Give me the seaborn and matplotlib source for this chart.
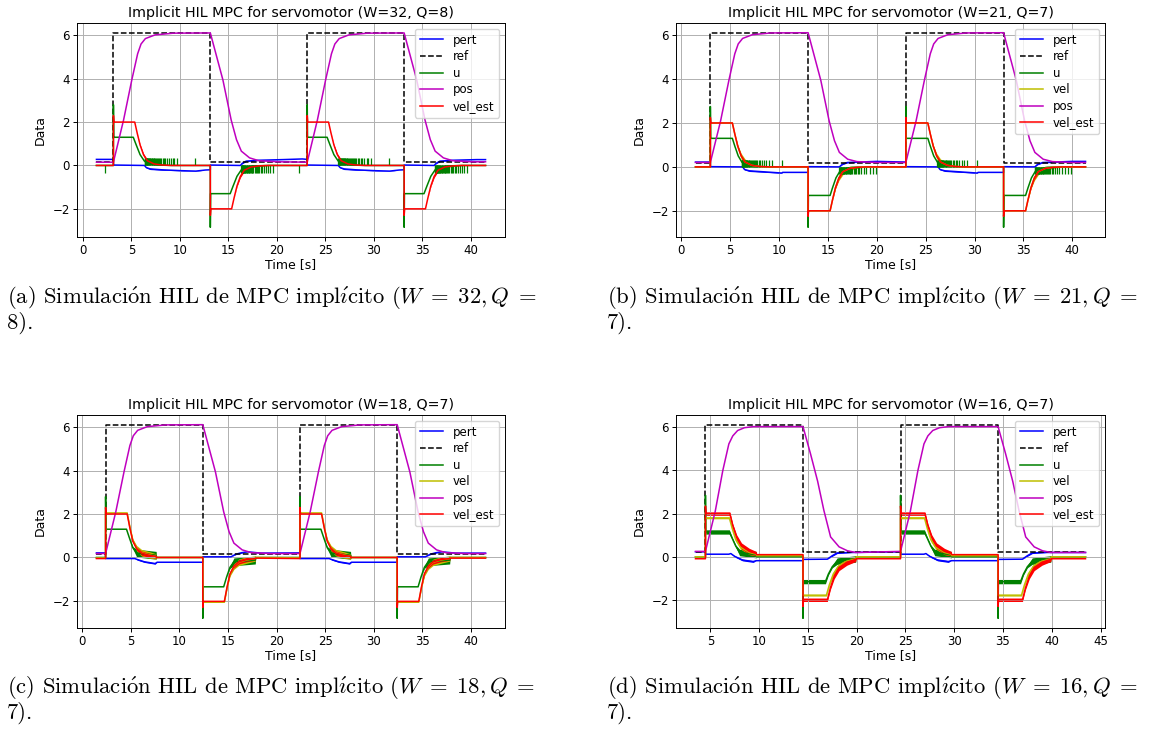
import matplotlib
matplotlib.use("Agg")
import matplotlib.pyplot as plt
import numpy as np
import seaborn as sns

# One 20 s period per panel, times relative to the rising step of the reference.
# First point = value just before the step; fall of the reference at +10 s.
PERIOD = 20.0

# ---------------- (a) W=32, Q=8 ----------------
A_T0, A_START, A_END = 3.15, 1.4, 41.55
A_REF_T = [0, 0, 10, 10, 20]
A_REF_V = [0.17, 6.12, 6.12, 0.17, 0.17]
A_POS_T = [0, 1.05, 1.9, 2.5, 2.85, 3.3, 4.3, 6.2, 10, 11.3, 12.15, 12.7, 13.2, 14.05, 15.0, 17.0, 20]
A_POS_V = [0.15, 2.1, 3.95, 5.15, 5.6, 5.85, 6.02, 6.1, 6.11, 3.94, 2.1, 1.19, 0.66, 0.35, 0.22, 0.17, 0.15]
A_PERT_T = [0, 0, 3.2, 3.4, 3.8, 5.0, 7.0, 8.5, 9.5, 10, 10, 13.1, 13.3, 13.7, 15.0, 17.5, 19.5, 20]
A_PERT_V = [0.28, 0.02, 0.0, -0.1, -0.16, -0.2, -0.24, -0.26, -0.21, -0.2, 0.02, 0.0, 0.1, 0.2, 0.24, 0.27, 0.3, 0.28]
A_PERT_W = [0, 0, 0, 0.02, 0.03, 0.02, 0.01, 0.01, 0, 0, 0, 0, 0.02, 0.02, 0.01, 0, 0, 0]
A_U_T = [0, 0, 0.03, 2.05, 2.35, 2.75, 3.2, 3.6, 4.5, 6, 10, 10, 10.03, 12.05, 12.35, 12.75, 13.2, 13.6, 14.5, 16, 20]
A_U_V = [0, 2.8, 1.3, 1.3, 0.95, 0.5, 0.2, 0.08, 0.02, 0, 0, -2.85, -1.3, -1.3, -0.95, -0.5, -0.2, -0.08, -0.02, 0, 0]
A_VE_T = [0, 0, 0.05, 2.2, 2.45, 2.75, 3.1, 3.5, 4.2, 5.0, 6.0, 10, 10, 10.05, 12.2, 12.45, 12.75, 13.1, 13.5, 14.2, 15, 16, 20]
A_VE_V = [0, 2.3, 2.0, 2.0, 1.5, 0.95, 0.5, 0.22, 0.07, 0.02, 0, 0, -2.3, -2.0, -2.0, -1.5, -0.95, -0.5, -0.22, -0.07, -0.02, 0, 0]
A_VE_W = [0, 0, 0, 0, 0, 0.03, 0.06, 0.06, 0.04, 0.02, 0, 0, 0, 0, 0, 0, 0.03, 0.06, 0.06, 0.04, 0.02, 0, 0]
A_SPK_UP = [3.22, 3.26, 3.3, 3.34, 3.38, 3.42, 3.46, 3.5, 3.55, 3.6, 3.65, 3.7, 3.76, 3.82, 3.88, 3.94,
            4.01, 4.08, 4.15, 4.23, 4.31, 4.4, 4.49, 4.59, 4.7, 4.82, 4.95, 5.08, 5.22, 5.37, 5.53,
            5.7, 5.9, 6.12, 6.3, 6.55, 8.45]
A_SPK_DN = [13.18, 13.22, 13.26, 13.3, 13.34, 13.38, 13.42, 13.47, 13.52, 13.57, 13.62, 13.68, 13.74,
            13.8, 13.87, 13.94, 14.01, 14.09, 14.17, 14.26, 14.35, 14.45, 14.56, 14.68, 14.8, 14.93,
            15.07, 15.22, 15.38, 15.55, 15.75, 15.95, 16.2, 16.5, 19.12]
A_SPK_H = 0.33

# ---------------- (b) W=21, Q=7 ----------------
B_T0, B_START, B_END = 2.97, 1.45, 41.35
B_REF_T = [0, 0, 10, 10, 20]
B_REF_V = [0.18, 6.11, 6.11, 0.18, 0.18]
B_POS_T = [0, 1.05, 1.9, 2.5, 2.85, 3.3, 4.3, 6.2, 10, 11.3, 12.15, 12.7, 13.2, 14.05, 15.0, 17.0, 20]
B_POS_V = [0.2, 2.1, 3.95, 5.15, 5.6, 5.85, 6.02, 6.1, 6.11, 3.94, 2.1, 1.19, 0.66, 0.35, 0.24, 0.2, 0.2]
B_PERT_T = [0, 0, 3.3, 3.5, 4.0, 6.0, 7.3, 7.4, 10, 10, 13.2, 13.5, 14.0, 17.0, 20]
B_PERT_V = [0.22, 0.01, 0.0, -0.12, -0.18, -0.24, -0.28, -0.25, -0.25, 0.01, 0.0, 0.12, 0.2, 0.25, 0.22]
B_PERT_W = [0, 0, 0, 0.02, 0.03, 0.02, 0.01, 0, 0, 0, 0, 0.02, 0.02, 0.01, 0]
B_U_T = [0, 0, 0.03, 2.25, 2.5, 2.85, 3.25, 3.65, 4.5, 6, 10, 10, 10.03, 12.25, 12.5, 12.85, 13.25, 13.65, 14.5, 16, 20]
B_U_V = [0, 2.75, 1.3, 1.3, 0.95, 0.5, 0.2, 0.08, 0.02, 0, 0, -2.75, -1.3, -1.3, -0.95, -0.5, -0.2, -0.08, -0.02, 0, 0]
B_VE_T = [0, 0, 0.05, 2.25, 2.5, 2.8, 3.15, 3.55, 4.25, 5.0, 6.0, 10, 10, 10.05, 12.25, 12.5, 12.8, 13.15, 13.55, 14.25, 15, 16, 20]
B_VE_V = [0, 2.25, 2.0, 2.0, 1.5, 0.95, 0.5, 0.22, 0.07, 0.02, 0, 0, -2.25, -2.0, -2.0, -1.5, -0.95, -0.5, -0.22, -0.07, -0.02, 0, 0]
B_VE_W = [0, 0, 0, 0, 0, 0.03, 0.06, 0.06, 0.04, 0.02, 0, 0, 0, 0, 0, 0, 0.03, 0.06, 0.06, 0.04, 0.02, 0, 0]
B_VEL_V = [0, 2.0, 2.0, 2.0, 1.5, 0.95, 0.5, 0.22, 0.07, 0.02, 0, 0, -2.0, -2.0, -2.0, -1.5, -0.95, -0.5, -0.22, -0.07, -0.02, 0, 0]
B_VEL_W = [0, 0, 0, 0, 0, 0.05, 0.12, 0.14, 0.1, 0.05, 0, 0, 0, 0, 0, 0, 0.05, 0.12, 0.14, 0.1, 0.05, 0, 0]
B_SPK_UP = [3.2, 3.24, 3.28, 3.32, 3.36, 3.4, 3.45, 3.5, 3.55, 3.6, 3.66, 3.72, 3.78, 3.85, 3.92, 3.99,
            4.07, 4.15, 4.24, 4.33, 4.43, 4.54, 4.66, 4.79, 4.93, 5.08, 5.25, 5.45, 5.7, 6.0, 6.3, 7.3]
B_SPK_DN = [13.2, 13.24, 13.28, 13.32, 13.36, 13.4, 13.45, 13.5, 13.55, 13.6, 13.66, 13.72, 13.78,
            13.85, 13.92, 13.99, 14.07, 14.15, 14.24, 14.33, 14.43, 14.54, 14.66, 14.79, 14.93, 15.08,
            15.25, 15.45, 15.7, 15.95, 16.3, 16.6, 16.9]
B_SPK_H = 0.33

# ---------------- (c) W=18, Q=7 ----------------
C_T0, C_START, C_END = 2.41, 1.47, 41.5
C_REF_T = [0, 0, 10, 10, 20]
C_REF_V = [0.15, 6.11, 6.11, 0.15, 0.15]
C_POS_T = [0, 1.05, 1.9, 2.5, 2.85, 3.3, 4.3, 6.2, 10, 11.3, 12.15, 12.7, 13.2, 14.05, 15.0, 17.0, 20]
C_POS_V = [0.18, 2.1, 3.95, 5.15, 5.6, 5.85, 6.02, 6.1, 6.11, 3.94, 2.1, 1.19, 0.66, 0.35, 0.22, 0.18, 0.18]
C_PERT_T = [0, 0, 3.0, 3.3, 4.0, 5.1, 5.3, 10, 10, 12.9, 13.4, 14.0, 14.6, 16.0, 20]
C_PERT_V = [0.21, -0.05, -0.05, -0.1, -0.2, -0.28, -0.22, -0.22, 0.03, 0.03, 0.15, 0.22, 0.26, 0.2, 0.21]
C_PERT_W = [0, 0, 0, 0.03, 0.03, 0.03, 0, 0, 0, 0, 0.02, 0.02, 0, 0, 0]
C_U_T = [0, 0, 0.03, 2.15, 2.45, 2.8, 3.2, 5.2, 5.25, 10, 10, 10.03, 12.15, 12.45, 12.8, 13.2, 15.4, 15.45, 20]
C_U_V = [0, 2.8, 1.3, 1.3, 0.9, 0.45, 0.2, 0.1, 0, 0, -2.8, -1.35, -1.35, -0.9, -0.45, -0.2, -0.12, 0, 0]
C_U_W = [0, 0, 0, 0, 0, 0.05, 0.18, 0.18, 0, 0, 0, 0, 0, 0, 0.05, 0.18, 0.18, 0, 0]
C_VE_T = [0, 0, 0.05, 2.22, 2.5, 2.8, 3.2, 3.7, 4.5, 5.2, 5.25, 10, 10, 10.05, 12.22, 12.5, 12.8, 13.2, 13.7, 14.5, 15.4, 15.45, 20]
C_VE_V = [-0.05, 2.3, 2.0, 2.0, 1.35, 0.75, 0.4, 0.2, 0.1, 0.05, 0, 0, -2.3, -2.02, -2.02, -1.35, -0.75, -0.4, -0.2, -0.1, -0.05, -0.03, -0.05]
C_VE_W = [0, 0, 0, 0, 0.02, 0.04, 0.08, 0.1, 0.1, 0.08, 0, 0, 0, 0, 0, 0.02, 0.04, 0.08, 0.1, 0.1, 0.08, 0, 0]
C_VEL_V = [-0.02, 2.1, 2.05, 2.05, 1.4, 0.8, 0.42, 0.22, 0.12, 0.05, 0, 0, -2.1, -2.06, -2.06, -1.4, -0.8, -0.42, -0.22, -0.12, -0.05, 0, -0.02]
C_VEL_W = [0, 0, 0, 0, 0.03, 0.06, 0.13, 0.15, 0.15, 0.12, 0, 0, 0, 0, 0, 0.03, 0.06, 0.13, 0.15, 0.15, 0.12, 0, 0]

# ---------------- (d) W=16, Q=7 ----------------
D_T0, D_START, D_END = 4.5, 3.48, 43.46
D_REF_T = [0, 0, 10, 10, 20]
D_REF_V = [0.2, 6.12, 6.12, 0.2, 0.2]
D_POS_T = [0, 1.0, 1.78, 2.4, 2.8, 3.3, 4.0, 4.9, 10, 10.77, 11.5, 12.14, 12.83, 13.7, 14.55, 15.4, 20]
D_POS_V = [0.25, 2.1, 4.0, 5.23, 5.6, 5.85, 5.98, 6.03, 6.03, 4.77, 3.5, 2.15, 0.92, 0.46, 0.28, 0.2, 0.25]
D_PERT_T = [0, 0, 2.4, 2.6, 3.0, 3.8, 4.9, 5.2, 10, 10, 12.5, 13.0, 13.5, 15.0, 20]
D_PERT_V = [0.23, 0.12, 0.12, 0.15, 0.02, -0.15, -0.22, -0.18, -0.18, -0.12, -0.11, 0.05, 0.18, 0.2, 0.23]
D_PERT_W = [0, 0, 0, 0, 0.03, 0.04, 0.04, 0, 0, 0, 0, 0.03, 0.03, 0, 0]
D_U_T = [0, 0, 0.03, 2.45, 2.75, 3.1, 3.5, 5.2, 5.25, 10, 10, 10.03, 12.3, 12.6, 13.0, 13.5, 15.4, 15.45, 20]
D_U_V = [0, 2.85, 1.15, 1.15, 0.85, 0.5, 0.2, 0.1, 0, 0, -2.85, -1.15, -1.15, -0.8, -0.46, -0.2, -0.1, 0, 0]
D_U_W = [0, 0, 0.1, 0.1, 0.05, 0.05, 0.15, 0.15, 0, 0, 0, 0.1, 0.1, 0.05, 0.05, 0.15, 0.15, 0, 0]
D_VEL_T = [0, 0, 0.05, 2.45, 2.75, 3.1, 3.6, 4.5, 5.2, 5.25, 10, 10, 10.05, 12.4, 12.7, 13.1, 13.6, 14.5, 15.4, 15.45, 20]
D_VEL_V = [0.0, 1.8, 1.8, 1.8, 1.3, 0.8, 0.45, 0.2, 0.12, 0.05, 0.05, -1.78, -1.78, -1.78, -1.3, -0.8, -0.45, -0.2, -0.1, 0.0, 0.0]
D_VEL_W = [0, 0, 0.04, 0.04, 0.04, 0.08, 0.1, 0.1, 0.08, 0, 0, 0, 0.04, 0.04, 0.04, 0.08, 0.1, 0.1, 0.08, 0, 0]
D_VE_T = [0, 0, 0.05, 2.5, 2.8, 3.2, 3.7, 4.5, 5.2, 5.25, 10, 10, 10.05, 12.5, 12.8, 13.2, 13.7, 14.5, 15.4, 15.45, 20]
D_VE_V = [-0.09, 2.35, 2.0, 2.0, 1.45, 0.9, 0.5, 0.25, 0.15, 0.1, 0.1, -2.3, -1.99, -1.99, -1.45, -0.9, -0.5, -0.25, -0.12, -0.09, -0.09]
D_VE_W = [0, 0, 0.08, 0.08, 0.08, 0.12, 0.14, 0.14, 0.1, 0, 0, 0, 0.08, 0.08, 0.08, 0.12, 0.14, 0.14, 0.1, 0, 0]

TITLES = [
    "Implicit HIL MPC for servomotor (W=32, Q=8)",
    "Implicit HIL MPC for servomotor (W=21, Q=7)",
    "Implicit HIL MPC for servomotor (W=18, Q=7)",
    "Implicit HIL MPC for servomotor (W=16, Q=7)",
]
# accents through mathtext, the bundled cmr10 face has no accented glyphs
ACC_O = r"$\mathrm{\acute{o}}$"
ACC_I = r"$\mathrm{\acute{\imath}}$"
CAP_BODY = "Simulaci" + ACC_O + "n HIL de MPC impl" + ACC_I + "cito"
CAPTIONS = [
    ("(a) " + CAP_BODY + r" ($W\;=\;32,Q\;=$", "8)."),
    ("(b) " + CAP_BODY + r" ($W\;=\;21,Q\;=$", "7)."),
    ("(c) " + CAP_BODY + r" ($W\;=\;18,Q\;=$", "7)."),
    ("(d) " + CAP_BODY + r" ($W\;=\;16,Q\;=$", "7)."),
]

COLORS = {"pert": "b", "ref": "k", "u": "g", "vel": "y", "pos": "m", "vel_est": "r"}
LW = 1.1


def tile(rel_t, vals, t0, t_start, t_end):
    """Repeat one measured period twice, starting at t_start and cut at t_end."""
    rel_t = np.asarray(rel_t, float)
    vals = np.asarray(vals, float)
    t = np.concatenate([[t_start], rel_t + t0, rel_t + t0 + PERIOD])
    v = np.concatenate([[vals[0]], vals, vals])
    keep = t <= t_end
    t, v = t[keep], v[keep]
    return np.append(t, t_end), np.append(v, v[-1])


def draw(ax, name, rel_t, vals, spec, spread=None, ls="-"):
    t0, t_start, t_end = spec
    t, v = tile(rel_t, vals, t0, t_start, t_end)
    color = COLORS[name]
    if spread is not None:
        _, w = tile(rel_t, spread, t0, t_start, t_end)
        ax.fill_between(t, v - w, v + w, color=color, lw=0)
    sns.lineplot(x=t, y=v, ax=ax, color=color, lw=LW, sort=False, estimator=None,
                 label=name, linestyle=ls)


def spikes(ax, rel_list, height, spec):
    t0, t_start, t_end = spec
    rel = np.asarray(rel_list, float)
    ts = np.concatenate([rel + t0 - PERIOD, rel + t0, rel + t0 + PERIOD])
    ts = ts[(ts >= t_start) & (ts <= t_end)]
    ax.vlines(ts, 0, height, color="g", lw=0.9)


def style(ax, title):
    ax.set_title(title, fontsize=10.3, pad=4)
    ax.set_xlabel("Time [s]", fontsize=9, labelpad=1)
    ax.set_ylabel("Data", fontsize=9, labelpad=4)
    ax.set_yticks([-2, 0, 2, 4, 6])
    ax.tick_params(labelsize=8.5, length=3, width=0.7, pad=2)
    ax.grid(True, color="#b0b0b0", lw=0.7)
    for sp in ax.spines.values():
        sp.set_linewidth(0.7)
    ax.legend(loc="upper right", fontsize=8.5, labelspacing=0.3, borderpad=0.4,
              handlelength=2.0, framealpha=0.8)


plt.rcParams["mathtext.fontset"] = "cm"
fig = plt.figure(figsize=(11.65, 7.30), dpi=100)
W_PX, H_PX = 1165, 730


def add_ax(x0, y0, x1, y1):
    return fig.add_axes([x0 / W_PX, 1 - y1 / H_PX, (x1 - x0) / W_PX, (y1 - y0) / H_PX])


ax_a = add_ax(77, 23, 505, 237)
ax_b = add_ax(676, 23, 1105, 237)
ax_c = add_ax(77, 415, 505, 628)
ax_d = add_ax(676, 415, 1105, 628)

# (a)
spec = (A_T0, A_START, A_END)
draw(ax_a, "pert", A_PERT_T, A_PERT_V, spec, spread=A_PERT_W)
draw(ax_a, "ref", A_REF_T, A_REF_V, spec, ls="--")
spikes(ax_a, A_SPK_UP, A_SPK_H, spec)
spikes(ax_a, A_SPK_DN, -A_SPK_H, spec)
draw(ax_a, "u", A_U_T, A_U_V, spec)
draw(ax_a, "pos", A_POS_T, A_POS_V, spec)
draw(ax_a, "vel_est", A_VE_T, A_VE_V, spec, spread=A_VE_W)
style(ax_a, TITLES[0])

# (b)
spec = (B_T0, B_START, B_END)
draw(ax_b, "pert", B_PERT_T, B_PERT_V, spec, spread=B_PERT_W)
draw(ax_b, "ref", B_REF_T, B_REF_V, spec, ls="--")
spikes(ax_b, B_SPK_UP, B_SPK_H, spec)
spikes(ax_b, B_SPK_DN, -B_SPK_H, spec)
draw(ax_b, "u", B_U_T, B_U_V, spec)
draw(ax_b, "vel", B_VE_T, B_VEL_V, spec, spread=B_VEL_W)
draw(ax_b, "pos", B_POS_T, B_POS_V, spec)
draw(ax_b, "vel_est", B_VE_T, B_VE_V, spec, spread=B_VE_W)
style(ax_b, TITLES[1])

# (c)
spec = (C_T0, C_START, C_END)
draw(ax_c, "pert", C_PERT_T, C_PERT_V, spec, spread=C_PERT_W)
draw(ax_c, "ref", C_REF_T, C_REF_V, spec, ls="--")
draw(ax_c, "u", C_U_T, C_U_V, spec, spread=C_U_W)
draw(ax_c, "vel", C_VE_T, C_VEL_V, spec, spread=C_VEL_W)
draw(ax_c, "pos", C_POS_T, C_POS_V, spec)
draw(ax_c, "vel_est", C_VE_T, C_VE_V, spec, spread=C_VE_W)
style(ax_c, TITLES[2])

# (d)
spec = (D_T0, D_START, D_END)
draw(ax_d, "pert", D_PERT_T, D_PERT_V, spec, spread=D_PERT_W)
draw(ax_d, "ref", D_REF_T, D_REF_V, spec, ls="--")
draw(ax_d, "u", D_U_T, D_U_V, spec, spread=D_U_W)
draw(ax_d, "vel", D_VEL_T, D_VEL_V, spec, spread=D_VEL_W)
draw(ax_d, "pos", D_POS_T, D_POS_V, spec)
draw(ax_d, "vel_est", D_VE_T, D_VE_V, spec, spread=D_VE_W)
style(ax_d, TITLES[3])
ax_d.set_xticks([5, 10, 15, 20, 25, 30, 35, 40, 45])

# LaTeX-like sub-captions
for (line1, line2), (x, y) in zip(CAPTIONS, [(7, 298), (607, 298), (7, 688), (607, 688)]):
    fig.text(x / W_PX, 1 - y / H_PX, line1, fontsize=16.3, family="cmr10", va="center")
    fig.text(x / W_PX, 1 - (y + 25) / H_PX, line2, fontsize=16.3, family="cmr10", va="center")

fig.savefig("out.png", dpi=100)
